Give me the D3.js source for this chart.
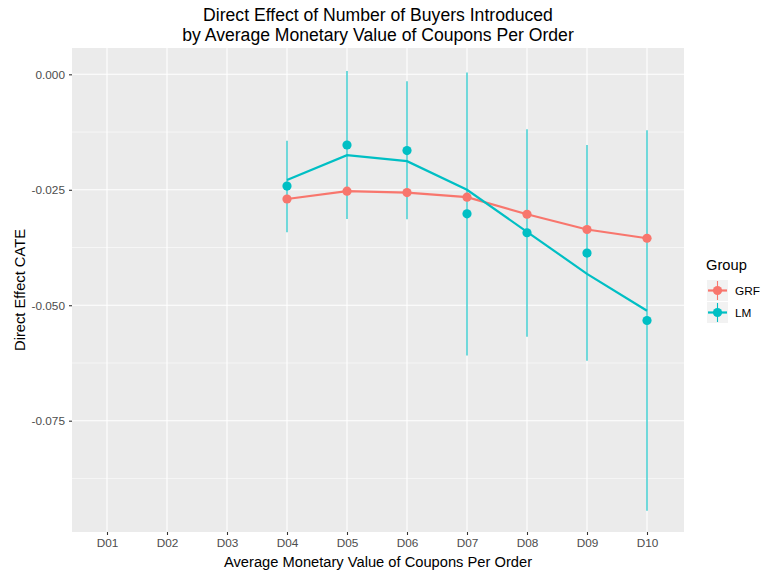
<!DOCTYPE html>
<html><head><meta charset="utf-8">
<script src="https://cdn.jsdelivr.net/npm/d3@7"></script>
<style>body{margin:0;background:#fff}svg{display:block;font-family:"Liberation Sans",Arial,sans-serif}</style>
</head><body>
<svg id="c" width="761" height="573"></svg>
<script>
const categories = ["D01","D02","D03","D04","D05","D06","D07","D08","D09","D10"];
const dataCats = ["D04","D05","D06","D07","D08","D09","D10"];
const grfValues = [-0.0270,-0.0253,-0.0256,-0.0266,-0.0303,-0.0336,-0.0355];
const lmPoints = [-0.0242,-0.0153,-0.0165,-0.0302,-0.0343,-0.0387,-0.0533];
const lmLine = [-0.0229,-0.0175,-0.0188,-0.0250,-0.0341,-0.0432,-0.0512];
const lmLower = [-0.0342,-0.0313,-0.0314,-0.0609,-0.0568,-0.0620,-0.0945];
const lmUpper = [-0.0144,0.0007,-0.0015,0.0004,-0.0119,-0.0153,-0.0121];
const yTicks = [0,-0.025,-0.05,-0.075];
const yMinor = [-0.0125,-0.0375,-0.0625,-0.0875];
const groups = ["GRF","LM"];
const colors = {GRF:"#F8766D", LM:"#00BFC4"};

const svg = d3.select("#c");
const P = {l:72, r:684, t:48, b:532};
const x = d3.scalePoint().domain(categories).range([107,647]);
const y = d3.scaleLinear().domain([-0.0991,0.0057]).range([P.b,P.t]);

svg.append("rect").attr("x",P.l).attr("y",P.t).attr("width",P.r-P.l).attr("height",P.b-P.t).attr("fill","#EBEBEB");
const g = svg.append("g");
yMinor.forEach(v=>g.append("line").attr("x1",P.l).attr("x2",P.r).attr("y1",y(v)).attr("y2",y(v)).attr("stroke","#fff").attr("stroke-width",0.55));
yTicks.forEach(v=>g.append("line").attr("x1",P.l).attr("x2",P.r).attr("y1",y(v)).attr("y2",y(v)).attr("stroke","#fff").attr("stroke-width",1.1));
categories.forEach(c=>g.append("line").attr("x1",x(c)).attr("x2",x(c)).attr("y1",P.t).attr("y2",P.b).attr("stroke","#fff").attr("stroke-width",1.1));

// axes
const xa = svg.append("g").attr("transform",`translate(0,${P.b})`).call(d3.axisBottom(x).tickSize(3).tickPadding(4));
const ya = svg.append("g").attr("transform",`translate(${P.l},0)`).call(d3.axisLeft(y).tickValues(yTicks).tickFormat(d3.format(".3f")).tickSize(3).tickPadding(4));
[xa,ya].forEach(a=>{a.select(".domain").remove();a.selectAll(".tick line").attr("stroke","#333").attr("stroke-width",1.1);
  a.selectAll(".tick text").attr("fill","#4D4D4D").style("font-size","11.8px").style("font-family","Liberation Sans, Arial, sans-serif");});
ya.selectAll(".tick text").text(d=>d===0?"0.000":d3.format(".3f")(d).replace("−","-"));

// error bars
dataCats.forEach((c,i)=>svg.append("line").attr("x1",x(c)).attr("x2",x(c)).attr("y1",y(lmUpper[i])).attr("y2",y(lmLower[i])).attr("stroke",colors.LM).attr("stroke-width",1.1));

const line = d3.line().x((d,i)=>x(dataCats[i])).y(d=>y(d));
svg.append("path").attr("d",line(grfValues)).attr("fill","none").attr("stroke",colors.GRF).attr("stroke-width",2.2);
svg.append("path").attr("d",line(lmLine)).attr("fill","none").attr("stroke",colors.LM).attr("stroke-width",2.2);
grfValues.forEach((v,i)=>svg.append("circle").attr("cx",x(dataCats[i])).attr("cy",y(v)).attr("r",4.6).attr("fill",colors.GRF));
lmPoints.forEach((v,i)=>svg.append("circle").attr("cx",x(dataCats[i])).attr("cy",y(v)).attr("r",4.6).attr("fill",colors.LM));

// titles
const t = svg.append("text").attr("text-anchor","middle").attr("fill","#000").style("font-size","17.6px");
t.append("tspan").attr("x",378).attr("y",21).text("Direct Effect of Number of Buyers Introduced");
t.append("tspan").attr("x",378).attr("y",41).text("by Average Monetary Value of Coupons Per Order");
svg.append("text").attr("x",378).attr("y",567).attr("text-anchor","middle").style("font-size","14.7px").text("Average Monetary Value of Coupons Per Order");
svg.append("text").attr("transform","translate(25,290) rotate(-90)").attr("text-anchor","middle").style("font-size","14.7px").text("Direct Effect CATE");

// legend
svg.append("text").attr("x",706).attr("y",270).style("font-size","14.7px").text("Group");
groups.forEach((gname,i)=>{
  const ky = 280 + i*22;
  svg.append("rect").attr("x",707).attr("y",ky).attr("width",21).attr("height",21).attr("fill","#F2F2F2");
  svg.append("line").attr("x1",708).attr("x2",727).attr("y1",ky+10.5).attr("y2",ky+10.5).attr("stroke",colors[gname]).attr("stroke-width",2.2);
  svg.append("line").attr("x1",717.5).attr("x2",717.5).attr("y1",ky+1).attr("y2",ky+20).attr("stroke",colors[gname]).attr("stroke-width",1.1);
  svg.append("circle").attr("cx",717.5).attr("cy",ky+10.5).attr("r",4.6).attr("fill",colors[gname]);
  svg.append("text").attr("x",735).attr("y",ky+15).style("font-size","11.8px").attr("fill","#000").text(gname);
});
</script>
</body></html>
